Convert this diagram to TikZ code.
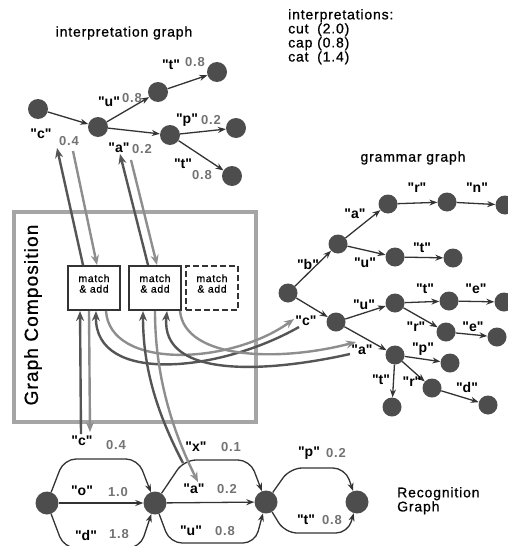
\documentclass[tikz,border=0pt]{standalone}
\usepackage{fontspec}
\setmainfont{Liberation Sans}[LetterSpace=6]
\newfontfamily\medfont{Liberation Sans}[LetterSpace=6,FakeBold=0.8]
\usetikzlibrary{arrows.meta}
\definecolor{dotgray}{HTML}{4D4D4D}
\definecolor{darkarr}{HTML}{555555}
\definecolor{lightarr}{HTML}{8E8E8E}
\definecolor{wtgray}{HTML}{737373}
\definecolor{framegray}{HTML}{A5A5A5}
\newcommand\qt[1]{\textquotedbl#1\textquotedbl}

\begin{document}
\begin{tikzpicture}[x=1pt,y=-1pt,
        dot/.style={circle,fill=dotgray,inner sep=0pt,minimum size=20pt},
        gdot/.style={dot,minimum size=19pt},
        rdot/.style={dot,minimum size=23pt},
        link/.style={draw=black!80,line width=1.3pt,-{Stealth[length=8pt,width=6pt]}},
        rlink/.style={link,rounded corners=12pt},
        sym/.style={font=\bfseries\fontsize{14}{14}\selectfont,inner sep=0pt},
        wt/.style={text=wtgray,font=\bfseries\fontsize{13}{13}\selectfont,inner sep=0pt},
        title/.style={font=\medfont\fontsize{14}{13}\selectfont,inner sep=0pt,align=left},
        mbox/.style={draw=black!80,line width=2pt,minimum width=52pt,minimum height=44pt,inner sep=1pt,
          align=center,text depth=9pt,font=\medfont\fontsize{10.5}{10.5}\selectfont},
        darkc/.style={draw=darkarr,line width=2.4pt,-{Stealth[length=10pt,width=8pt]}},
        lightc/.style={draw=lightarr,line width=2.4pt,-{Stealth[length=10pt,width=8pt]}}
      ]
      \path[use as bounding box,fill=white] (0,0) rectangle (507,546);

      % interpretation graph
      \node[title] (ititle) at (124,33) {interpretation graph};
      \node[dot] (i0) at (38,109) {};
      \node[dot] (i1) at (98,127) {};
      \node[dot] (i2) at (158,92) {};
      \node[dot] (i3) at (217,72) {};
      \node[dot] (i4) at (170,135) {};
      \node[dot] (i5) at (236,128) {};
      \node[dot] (i6) at (232,176) {};
      \draw[link] (i0) -- (i1);
      \draw[link] (i1) -- (i2);
      \draw[link] (i2) -- (i3);
      \draw[link] (i1) -- (i4);
      \draw[link] (i4) -- (i5);
      \draw[link] (i4) -- (i6);
      \node[sym] (ic) at (41,134) {\qt{c}};
      \node[wt] (icw) at (69,141) {0.4};
      \node[sym] (iu) at (109,102) {\qt{u}};
      \node[wt] (iuw) at (132,98) {0.8};
      \node[sym] (it1) at (171,65) {\qt{t}};
      \node[wt] (it1w) at (195,62) {0.8};
      \node[sym] (ip) at (187,120) {\qt{p}};
      \node[wt] (ipw) at (211,120) {0.2};
      \node[sym] (ia) at (119,148) {\qt{a}};
      \node[wt] (iaw) at (142,149) {0.2};
      \node[sym] (it2) at (183,164) {\qt{t}};
      \node[wt] (it2w) at (202,175) {0.8};

      \node[title,anchor=north west] (interp) at (288,9) {interpretations:\\
        \makebox[29pt][l]{cut}(2.0)\\\makebox[29pt][l]{cap}(0.8)\\\makebox[29pt][l]{cat}(1.4)};

      % grammar graph
      \node[title] (gtitle) at (413,158) {grammar graph};
      \node[gdot] (g0) at (288,293) {};
      \node[gdot] (g1) at (338,244) {};
      \node[gdot] (g2) at (388,204) {};
      \node[gdot] (g3) at (447,202) {};
      \node[gdot] (g4) at (505,205) {};
      \node[gdot] (g5) at (395,257) {};
      \node[gdot] (g6) at (453,258) {};
      \node[gdot] (g7) at (336,322) {};
      \node[gdot] (g8) at (395,303) {};
      \node[gdot] (g9) at (449,301) {};
      \node[gdot] (g10) at (504,302) {};
      \node[gdot] (g11) at (446,332) {};
      \node[gdot] (g12) at (497,337) {};
      \node[gdot] (g13) at (395,355) {};
      \node[gdot] (g14) at (450,363) {};
      \node[gdot] (g15) at (392,407) {};
      \node[gdot] (g16) at (432,388) {};
      \node[gdot] (g17) at (488,405) {};
      \draw[link] (g0) -- (g1);
      \draw[link] (g1) -- (g2);
      \draw[link] (g2) -- (g3);
      \draw[link] (g3) -- (g4);
      \draw[link] (g1) -- (g5);
      \draw[link] (g5) -- (g6);
      \draw[link] (g0) -- (g7);
      \draw[link] (g7) -- (g8);
      \draw[link] (g8) -- (g9);
      \draw[link] (g9) -- (g10);
      \draw[link] (g8) -- (g11);
      \draw[link] (g11) -- (g12);
      \draw[link] (g7) -- (g13);
      \draw[link] (g13) -- (g14);
      \draw[link] (g13) -- (g15);
      \draw[link] (g13) -- (g16);
      \draw[link] (g16) -- (g17);
      \node[sym] (gr1) at (417,188) {\qt{r}};
      \node[sym] (gn) at (477,188) {\qt{n}};
      \node[sym] (ga1) at (355,214) {\qt{a}};
      \node[sym] (gb) at (308,264) {\qt{b}};
      \node[sym] (gu1) at (365,263) {\qt{u}};
      \node[sym] (gt1) at (422,248) {\qt{t}};
      \node[sym] (gt2) at (425,289) {\qt{t}};
      \node[sym] (ge1) at (476,289) {\qt{e}};
      \node[sym] (gu2) at (364,305) {\qt{u}};
      \node[sym] (gc) at (306,321) {\qt{c}};
      \node[sym] (gr2) at (416,327) {\qt{r}};
      \node[sym] (ge2) at (473,327) {\qt{e}};
      \node[sym] (ga2) at (362,350) {\qt{a}};
      \node[sym] (gp) at (423,349) {\qt{p}};
      \node[sym] (gt3) at (381,380) {\qt{t}};
      \node[sym] (gr3) at (412,382) {\qt{r}};
      \node[sym] (gd) at (467,387) {\qt{d}};

      % graph composition
      \draw[framegray,line width=4pt] (14,212) rectangle (256,422);
      \node[font=\medfont\fontsize{19}{19}\selectfont,rotate=90,inner sep=0pt] (comp) at (33,315) {Graph Composition};
      \node[mbox] (m1) at (94,288) {match\\\& add};
      \node[mbox] (m2) at (155,288) {match\\\& add};
      \node[mbox,dashed,dash pattern=on 6pt off 3pt] (m3) at (212,288) {match\\\& add};

      % recognition graph
      \node[rdot] (r0) at (47,503) {};
      \node[rdot] (r1) at (155,503) {};
      \node[rdot] (r2) at (266,502) {};
      \node[rdot] (r3) at (357,502) {};
      \draw[rlink] (r0) -- (64,459) -- (138,459) -- (r1);
      \draw[link] (r0) -- (r1);
      \draw[rlink] (r0) -- (64,548) -- (140,548) -- (r1);
      \draw[rlink] (r1) -- (184,460) -- (250,460) -- (r2);
      \draw[link] (r1) -- (r2);
      \draw[rlink] (r1) -- (170,543) -- (255,543) -- (r2);
      \draw[rlink] (r2) -- (290,468) -- (345,468) -- (r3);
      \draw[rlink] (r2) -- (285,533) -- (348,533) -- (r3);
      \node[sym] (rc) at (82,441) {\qt{c}};
      \node[wt] (rcw) at (116,445) {0.4};
      \node[sym] (ro) at (82,491) {\qt{o}};
      \node[wt] (row) at (118,492) {1.0};
      \node[sym] (rd) at (86,535) {\qt{d}};
      \node[wt] (rdw) at (119,534) {1.8};
      \node[sym] (rx) at (196,447) {\qt{x}};
      \node[wt] (rxw) at (231,447) {0.1};
      \node[sym] (ra) at (194,489) {\qt{a}};
      \node[wt] (raw) at (227,489) {0.2};
      \node[sym] (ru) at (191,531) {\qt{u}};
      \node[wt] (ruw) at (225,531) {0.8};
      \node[sym] (rp) at (309,453) {\qt{p}};
      \node[wt] (rpw) at (336,453) {0.2};
      \node[sym] (rt) at (306,520) {\qt{t}};
      \node[wt] (rtw) at (332,520) {0.8};
      \node[title,anchor=north west] (rtitle) at (397,487) {Recognition\\Graph};

      % composition arrows
      \coordinate (cUp) at (57,148);
      \coordinate (cDown) at (73,151);
      \coordinate (aUp) at (120,154);
      \coordinate (aDown) at (131,160);
      \coordinate (rcUp) at (81,434);
      \coordinate (rcDown) at (90,432);
      \coordinate (raUp) at (183,463);
      \coordinate (raDown) at (198,482);
      \coordinate (gcIn) at (294,319);
      \coordinate (gcOut) at (299,327);
      \coordinate (gaIn) at (356,342);
      \coordinate (gaOut) at (350,354);
      \draw[darkc] ([xshift=16pt]m1.north west) -- (cUp);
      \draw[lightc] (cDown) -- ([xshift=30pt]m1.north west);
      \draw[darkc] ([xshift=20pt]m2.north west) -- (aUp);
      \draw[lightc] (aDown) -- ([xshift=29pt]m2.north west);
      \draw[darkc] (rcUp) -- ([xshift=13pt]m1.south west);
      \draw[lightc] ([xshift=22pt]m1.south west) -- (rcDown);
      \draw[darkc] (gcOut) .. controls (220,372) and (95,385) .. ([xshift=29pt]m1.south west);
      \draw[lightc] ([xshift=39pt]m1.south west) .. controls (110,370) and (230,365) .. (gcIn);
      \draw[darkc] (raUp) .. controls (158,415) and (143,370) .. ([xshift=15pt]m2.south west);
      \draw[lightc] ([xshift=27pt]m2.south west) .. controls (155,375) and (172,430) .. (raDown);
      \draw[darkc] (gaOut) .. controls (270,372) and (160,380) .. ([xshift=39pt]m2.south west);
      \draw[lightc] ([xshift=52pt]m2.south west) .. controls (185,360) and (280,362) .. (gaIn);
    \end{tikzpicture}
\end{document}
